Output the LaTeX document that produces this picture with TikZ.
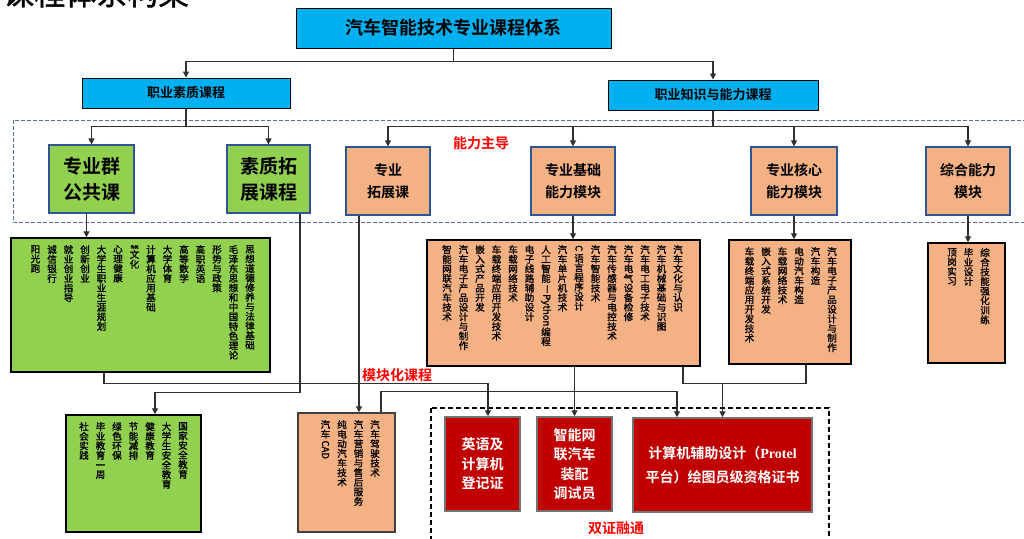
\documentclass[tikz,border=0pt]{standalone}
\usepackage{fontspec}
\usepackage{graphicx}
\setmainfont{Noto Sans CJK SC}[BoldFont={Noto Sans CJK SC Bold}]
\newfontfamily\lstfont{Noto Sans CJK SC}[FakeBold=1.3]
\newfontfamily\lser{Liberation Serif}
\usetikzlibrary{arrows.meta}
\definecolor{topblue}{HTML}{00B0F0}
\definecolor{lgreen}{HTML}{92D050}
\definecolor{lorange}{HTML}{F4B183}
\definecolor{dred}{HTML}{C00000}
\definecolor{bordblue}{HTML}{2F5597}
\definecolor{dashblue}{HTML}{5B6F8F}
\definecolor{linegray}{HTML}{303030}
\makeatletter
\newcommand\vtext[1]{\vbox{\baselineskip=9.6pt\lineskiplimit=0pt\lineskip=1pt\@tfor\vt@c:=#1\do{\hbox to 12pt{\hss\vt@c\hss}}}}
\makeatother
\newcommand\vtextm[1]{\expandafter\vtext\expandafter{#1}}
\newcommand\vr[1]{\raisebox{7pt}{\rotatebox{-90}{#1}}}
\newcommand\zhtw{\fontsize{4}{4}\selectfont 传统}
\tikzset{
  bbox/.style={draw=black, line width=1pt, fill=topblue, inner sep=0pt, font=\bfseries\fontsize{13}{13}\selectfont},
  gbox/.style={draw=bordblue, line width=1.2pt, fill=lgreen, inner sep=0pt, align=center, font=\bfseries\fontsize{19}{26}\selectfont},
  obox/.style={draw=bordblue, line width=1.2pt, fill=lorange, inner sep=0pt, align=center, font=\bfseries\fontsize{14}{22}\selectfont},
  listg/.style={draw=black, line width=1.5pt, fill=lgreen, inner sep=0pt},
  listo/.style={draw=black, line width=1.5pt, fill=lorange, inner sep=0pt},
  cert/.style={draw=black!55, line width=1.5pt, fill=dred, text=white, inner sep=0pt, align=center, font=\bfseries\fontsize{14}{19.5}\selectfont},
  vt/.style={anchor=north, inner sep=0pt, font=\lstfont\fontsize{9.6}{9.6}\selectfont},
  redl/.style={text=red, inner sep=0pt, font=\bfseries\fontsize{14}{14}\selectfont},
  ln/.style={draw=linegray, line width=1.2pt},
  arr/.style={draw=linegray, line width=1.2pt, -{Triangle[length=6pt,width=6pt]}},
}
\begin{document}
\begin{tikzpicture}[x=1pt,y=-1pt]
\useasboundingbox (0,0) rectangle (1024,538);
\clip (0,0) rectangle (1024,538);
\fill[white] (0,0) rectangle (1024,538);
\node[anchor=base west, inner sep=0pt, font=\lstfont\fontsize{31}{31}\selectfont] (ttl) at (3,5) {课程体系构架};
% dashed frames
\draw[dashblue, line width=1pt, dash pattern=on 4pt off 2pt] (13,120) rectangle (1030,222);
\draw[black, line width=1.2pt, dash pattern=on 5pt off 3pt] (431,408) rectangle (829,545);
% top level
\node[bbox, minimum width=315, minimum height=40, font=\bfseries\fontsize{18}{18}\selectfont] (top) at (453.5,28) {汽车智能技术专业课程体系};
\node[bbox, minimum width=208, minimum height=30] (zs) at (186,93) {职业素质课程};
\node[bbox, minimum width=210, minimum height=30] (zn) at (713,95) {职业知识与能力课程};
% second level
\node[gbox, minimum width=85, minimum height=68] (g1) at (91.5,179) {专业群\\公共课};
\node[gbox, minimum width=83, minimum height=68] (g2) at (268.5,179) {素质拓\\展课程};
\node[obox, minimum width=84, minimum height=68] (o1) at (388,181) {专业\\拓展课};
\node[obox, minimum width=84, minimum height=68] (o2) at (573,181) {专业基础\\能力模块};
\node[obox, minimum width=86, minimum height=68] (o3) at (794,181) {专业核心\\能力模块};
\node[obox, minimum width=84, minimum height=68] (o4) at (968,181) {综合能力\\模块};
% list boxes
\node[listg, minimum width=259, minimum height=134] (gl) at (140.5,305) {};
\node[listo, minimum width=273, minimum height=126] (ol) at (563.5,303) {};
\node[listo, minimum width=122, minimum height=124] (l3) at (790,302) {};
\node[listo, minimum width=77, minimum height=120] (l4) at (966.5,303) {};
\node[listg, minimum width=135, minimum height=117] (b1) at (133.5,473.5) {};
\node[listo, draw=black!75, minimum width=97, minimum height=119] (b2) at (346.5,472.5) {};
% certificates
\node[cert, minimum width=75, minimum height=94] (e1) at (482.5,464) {英语及\\计算机\\登记证};
\node[cert, minimum width=75, minimum height=94] (e2) at (574.5,464) {智能网\\联汽车\\装配\\调试员};
\node[cert, minimum width=179, minimum height=94, font=\bfseries\fontsize{14}{24}\selectfont] (e3) at (722.5,465) {计算机辅助设计（{\lser\bfseries Protel}\\平台）绘图员级资格证书};
% vertical texts
\foreach \t [count=\i] in {思想道德修养与法律基础,毛泽东思想和中国特色理论,形势与政策,高职英语,高等数学,大学体育,计算机应用基础,\zhtw 文化,心理健康,大学生职业生涯规划,创新创业,就业创业指导,诚信银行,阳光跑}
  \node[vt] (ga\i) at ({250-16.5*(\i-1)},245) {\vtextm\t};
\foreach \t [count=\i] in {汽车文化与认识,汽车机械基础与识图,汽车电工电子技术,汽车电气设备检修,汽车传感器与电控技术,汽车智能技术,{\vr{C}}语言程序设计,汽车单片机技术,人工智能{\vr{—}}{\vr{Python}}编程,电子线路辅助设计,车载网络技术,车载终端应用开发技术,嵌入式产品开发,汽车电子产品设计与制作,智能网联汽车技术}
  \node[vt] (oa\i) at ({678-16.5*(\i-1)},245) {\vtextm\t};
\foreach \t [count=\i] in {汽车电子产品设计与制作,汽车构造,电动汽车构造,车载网络技术,嵌入式系统开发,车载终端应用开发技术}
  \node[vt] (ha\i) at ({832-16.5*(\i-1)},247) {\vtextm\t};
\foreach \t [count=\i] in {综合技能强化训练,毕业设计,顶岗实习}
  \node[vt] (za\i) at ({985-16.5*(\i-1)},248) {\vtextm\t};
\foreach \t [count=\i] in {国家安全教育,大学生安全教育,健康教育,节能减排,绿色环保,毕业教育一周,社会实践}
  \node[vt] (ba\i) at ({183-16.5*(\i-1)},422) {\vtextm\t};
\foreach \t [count=\i] in {汽车驾驶技术,汽车营销与售后服务,纯电动汽车技术,汽车{\vr{CAD}}}
  \node[vt] (ca\i) at ({375-16.5*(\i-1)},420) {\vtextm\t};
% red labels
\node[redl] (lb1) at (481,143) {能力主导};
\node[redl] (lb2) at (397,375) {模块化课程};
\node[redl] (lb3) at (616,528) {双证融通};
% connectors
\draw[arr] (top.south) -- ++(0,13) -| (zs.north);
\draw[arr] (top.south) -- ++(0,13) -| (zn.north);
\draw[arr] (zs.south) -- ++(0,18) -| (g1.north);
\draw[arr] (zs.south) -- ++(0,18) -| (g2.north);
\foreach \n in {o1,o2,o3,o4} \draw[arr] (zn.south) -- ++(0,16) -| (\n.north);
\draw[arr] ([xshift=-5pt]g1.south) -- ([xshift=-5pt]g1.south |- gl.north);
\draw[arr] (o2.south) -- (o2.south |- ol.north);
\draw[arr] (o3.south) -- (o3.south |- l3.north);
\draw[arr] (o4.south) -- (o4.south |- l4.north);
\draw[arr] ([xshift=-36.5pt]gl.south) -- ++(0,11) -| ([xshift=5.5pt]e1.north);
\draw[arr] ([xshift=31.5pt]g2.south) -- ++(0,179) -| ([xshift=21.5pt]b1.north);
\draw[arr] ([xshift=-29pt]o1.south) -- ([xshift=-29pt]o1.south |- b2.north);
\draw[arr] ([xshift=34.5pt]b2.north) -- ++(0,-21) -| ([xshift=-45.5pt]e3.north);
\draw[arr] (e2.north |- ol.south) -- (e2.north);
\draw[ln] ([xshift=119.5pt]ol.south) -- ++(0,17) -| ([xshift=16pt]l3.south);
\coordinate (j3) at (722.5,383);
\draw[arr] (j3) -- (e3.north);
\end{tikzpicture}
\end{document}
